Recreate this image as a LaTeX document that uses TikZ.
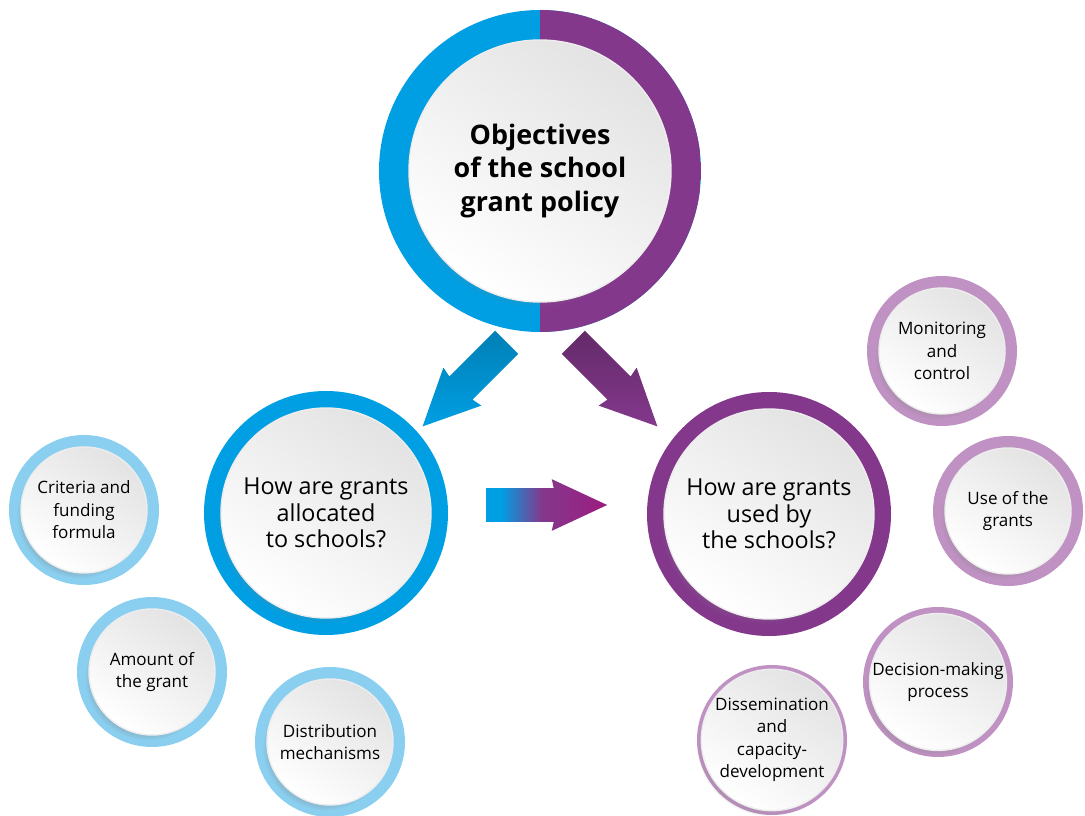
\documentclass[tikz,border=0pt]{standalone}
\usepackage{fontspec}
\setmainfont{Open Sans}
\usepackage{tikz}
\usetikzlibrary{shapes.arrows, shadows, fadings}
\usepackage{xcolor}

\definecolor{grantblue}{HTML}{009FE3}
\definecolor{grantpurple}{HTML}{84388C}
\definecolor{grantmagenta}{HTML}{9C1C80}
\definecolor{lightblue}{HTML}{8ACFF0}
\definecolor{lightpurple}{HTML}{C092C3}

\pgfdeclarehorizontalshading{bluepurple}{100bp}{color(0bp)=(grantblue); color(25bp)=(grantblue); color(31bp)=(grantblue); color(48bp)=(grantpurple); color(75bp)=(grantmagenta); color(100bp)=(grantmagenta)}

\begin{document}
\begin{tikzpicture}[
        ring/.style={circle, inner sep=0pt, minimum size=#1},
        disc/.style={circle, inner sep=0pt, minimum size=#1, align=center, text=black,
            draw=black!7, line width=0.8pt, top color=black!11, bottom color=white, shading angle=-35,
            circular drop shadow={shadow xshift=-2.5pt, shadow yshift=-3pt, shadow scale=1.0, opacity=0.45}},
        bigtxt/.style={font={\fontsize{15.3}{19}\selectfont\bfseries}},
        midtxt/.style={font={\fontsize{13.3}{15.2}\selectfont}},
        smalltxt/.style={font={\fontsize{9.7}{12.8}\selectfont}},
        blockarr/.style={single arrow, draw=none, anchor=tip, inner xsep=0pt, inner ysep=0.32cm, minimum height=2.38cm,
            single arrow head extend=0.21cm, single arrow tip angle=51, single arrow head indent=0.04cm},
    ]
        \useasboundingbox (0, 0) rectangle (21.7, 16.3);

        % Objectives
        \node[ring=6.44cm, fill=grantblue, path picture={
                \fill[grantpurple] (path picture bounding box.north) rectangle (path picture bounding box.south east);
            }] (objring) at (10.8, 12.88) {};
        \node[disc=5.24cm, bigtxt] (obj) at (objring) {Objectives\\of the school\\grant policy};

        % Allocation side
        \node[ring=4.88cm, fill=grantblue] (allocring) at (6.52, 6.04) {};
        \node[disc=4.2cm, midtxt] (alloc) at (allocring) {How are grants\\allocated\\to schools?};

        \node[ring=3cm, fill=lightblue] (criteriaring) at (1.68, 6.1) {};
        \node[disc=2.52cm, smalltxt] (criteria) at (criteriaring) {Criteria and\\funding\\formula};

        \node[ring=3cm, fill=lightblue] (amountring) at (3.04, 2.86) {};
        \node[disc=2.52cm, smalltxt] (amount) at (amountring) {Amount of\\the grant};

        \node[ring=3cm, fill=lightblue] (distring) at (6.6, 1.46) {};
        \node[disc=2.52cm, smalltxt] (dist) at (distring) {Distribution\\mechanisms};

        % Use side
        \node[ring=4.88cm, fill=grantpurple] (usedring) at (15.38, 6.02) {};
        \node[disc=4.2cm, midtxt] (used) at (usedring) {How are grants\\used by\\the schools?};

        \node[ring=3cm, fill=lightpurple] (monitorring) at (18.84, 9.28) {};
        \node[disc=2.52cm, smalltxt] (monitor) at (monitorring) {Monitoring\\and\\control};

        \node[ring=3cm, fill=lightpurple] (usering) at (20.16, 6.08) {};
        \node[disc=2.52cm, smalltxt] (use) at (usering) {Use of the\\grants};

        \node[ring=3cm, fill=lightpurple] (decisionring) at (18.76, 2.66) {};
        \node[disc=2.52cm, smalltxt] (decision) at (decisionring) {Decision-making\\process};

        \node[ring=3cm, fill=lightpurple] (dissring) at (15.44, 1.5) {};
        \node[disc=2.52cm, smalltxt] (diss) at (dissring) {Dissemination\\and\\capacity-\\development};

        % Arrows
        \node[blockarr, rotate=225, top color=grantblue!80!black, bottom color=grantblue] (toalloc) at (8.44, 7.76) {};
        \node[blockarr, rotate=-45, top color=grantpurple!75!black, bottom color=grantpurple] (toused) at (13.16, 7.76) {};
        \node[blockarr, inner ysep=0.33cm, minimum height=2.42cm, single arrow head extend=0.18cm,
            single arrow tip angle=50, shade, shading=bluepurple] (alloctoused) at (12.16, 6.2) {};
    \end{tikzpicture}
\end{document}
